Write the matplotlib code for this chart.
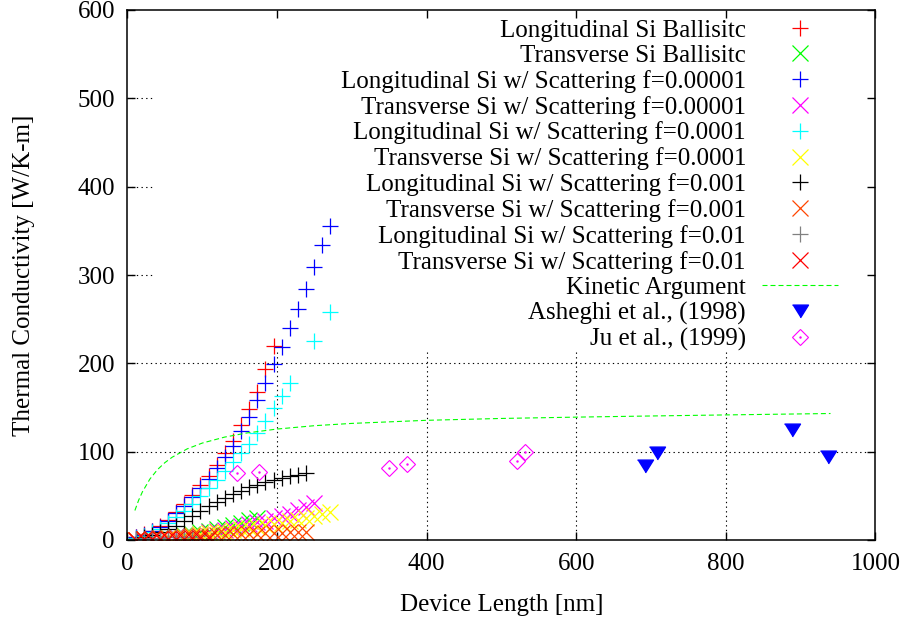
import matplotlib
matplotlib.use('Agg')
import matplotlib.pyplot as plt
from matplotlib.legend_handler import HandlerTuple

plt.rcParams['font.family'] = ['Liberation Serif', 'DejaVu Serif']
plt.rcParams['font.size'] = 18

# device lengths of the simulated points [nm]
length_nm = [10.9, 21.7, 32.6, 43.4, 54.3, 65.2, 76.0, 86.9, 97.7, 108.6,
             119.5, 130.3, 141.2, 152.0, 162.9, 173.8, 184.6, 195.5, 206.3,
             217.2, 228.1, 238.9, 249.8, 260.6, 271.5]

long_ballistic = [3, 6.5, 10.5, 16, 23, 32, 41, 51, 62, 73, 85, 99, 112, 130,
                  148, 168, 194, 220]
trans_ballistic = [0.3, 0.6, 1.1, 1.9, 2.8, 4, 5.3, 6.8, 8.5, 10.5, 12.5, 14.8,
                   17.2, 19.8, 22.5, 25]
long_f1e5 = [3, 6, 10, 15, 22, 31, 39, 49, 59, 69, 81, 94, 106, 123, 139, 158,
             178, 199, 218, 240, 262, 284, 309, 334, 355]
trans_f1e5 = [0.5, 1, 1.5, 2.2, 3, 4, 5, 6, 7, 8.5, 10, 11.5, 13.5, 15.5, 18,
              20, 22, 25, 27, 30, 34, 37, 41.5]
long_f1e4_x = [10.9, 21.7, 32.6, 43.4, 54.3, 65.2, 76.0, 86.9, 97.7, 108.6,
               119.5, 130.3, 141.2, 152.0, 162.9, 173.8, 184.6, 195.5, 206.3,
               217.2, 249.8, 271.5]
long_f1e4 = [2.5, 5, 8.5, 13, 19, 26, 33, 41, 50, 59, 68, 78, 88, 98, 109, 121,
             135, 149, 163, 178, 225, 258]
trans_f1e4 = [0.5, 1, 1.5, 2.2, 3, 3.5, 4.5, 5.5, 6.5, 7.5, 8.5, 9.5, 11, 12,
              13.5, 15, 16.5, 18, 19.5, 21, 23, 25, 27, 29, 32]
long_f1e3 = [1.5, 3, 5.5, 8.5, 12, 16, 21, 27, 33, 39, 43, 47.5, 52, 55.5, 59.5,
             62.5, 65.5, 68, 70, 72, 74, 75.5]
trans_f1e3 = [0.5, 1, 1.5, 2, 2.5, 3, 3.5, 4, 4.5, 5, 5.5, 6, 6.3, 6.6, 7, 7.3,
              7.6, 8, 8.2, 8.5, 8.8, 9]
long_f1e2 = [1, 1.5, 2, 2.5, 3, 3, 3.5, 3.5]
trans_f1e2 = [0.5, 0.8, 1, 1.2, 1.4, 1.5, 1.6, 1.7, 1.8, 1.9]

kinetic_x = [10, 15, 20, 30, 40, 50, 60, 80, 100, 130, 160, 200, 250, 300,
             400, 500, 600, 700, 800, 940]
kinetic_y = [33.4, 45, 54.4, 68.9, 79.5, 87.5, 93.8, 103.2, 109.7, 116.5, 121.2,
             125.6, 129.4, 132, 135.5, 137.6, 139.1, 140.4, 141.6, 143.2]

asheghi_x = [692, 708, 889, 937]
asheghi_y = [84, 98, 124, 94]
ju_x = [146, 176, 349.5, 374, 521, 531]
ju_y = [75.5, 77.3, 82, 86.4, 89, 100]

plus_series = [
    ('Longitudinal Si Ballisitc', length_nm, long_ballistic, '+', '#ff0000'),
    ('Transverse Si Ballisitc', length_nm, trans_ballistic, 'x', '#00ff00'),
    ('Longitudinal Si w/ Scattering f=0.00001', length_nm, long_f1e5, '+', '#0000ff'),
    ('Transverse Si w/ Scattering f=0.00001', length_nm, trans_f1e5, 'x', '#ff00ff'),
    ('Longitudinal Si w/ Scattering f=0.0001', long_f1e4_x, long_f1e4, '+', '#00ffff'),
    ('Transverse Si w/ Scattering f=0.0001', length_nm, trans_f1e4, 'x', '#ffff00'),
    ('Longitudinal Si w/ Scattering f=0.001', length_nm, long_f1e3, '+', '#000000'),
    ('Transverse Si w/ Scattering f=0.001', length_nm, trans_f1e3, 'x', '#ff4500'),
    ('Longitudinal Si w/ Scattering f=0.01', length_nm, long_f1e2, '+', '#808080'),
    ('Transverse Si w/ Scattering f=0.01', length_nm, trans_f1e2, 'x', '#ff0000'),
]

fig = plt.figure(figsize=(9.09, 6.23), dpi=100)
ax = fig.add_axes([127.4 / 909, 83 / 623, 748 / 909, 530 / 623])

# grid, kept out of the key area like gnuplot does
ax.hlines([100, 200], 0, 1000, colors='k', linestyles=(0, (1.2, 3)), lw=0.8, zorder=1)
ax.hlines([300, 400, 500], 0, 34, colors='k', linestyles=(0, (1.2, 3)), lw=0.8, zorder=1)
ax.vlines([200, 400, 600, 800], 0, 215, colors='k', linestyles=(0, (1.2, 3)), lw=0.8, zorder=1)

handles = []
labels = []
for label, xs, ys, mk, col in plus_series:
    ms = 11.3 if mk == '+' else 12
    h, = ax.plot(xs[:len(ys)], ys, linestyle='none', marker=mk, ms=ms, mew=0.9,
                 color=col, zorder=2)
    handles.append(h)
    labels.append(label)

h, = ax.plot(kinetic_x, kinetic_y, color='#00ff00', lw=0.8,
             linestyle=(0, (4.5, 2.7)), zorder=2)
handles.append(h)
labels.append('Kinetic Argument')

tri = [(-1, 0.8), (1, 0.8), (0, -0.8)]
h, = ax.plot(asheghi_x, asheghi_y, linestyle='none', marker=tri, ms=11.5,
             color='#0000ff', zorder=3)
handles.append(h)
labels.append('Asheghi et al., (1998)')

h1, = ax.plot(ju_x, ju_y, linestyle='none', marker='D', ms=8, mfc='none',
              mec='#ff00ff', mew=0.8, zorder=3)
h2, = ax.plot(ju_x, ju_y, linestyle='none', marker='.', ms=1.5,
              color='#ff00ff', zorder=3)
handles.append((h1, h2))
labels.append('Ju et al., (1999)')

ax.set_xlim(0, 1000)
ax.set_ylim(0, 600)
ax.set_xticks(range(0, 1001, 200))
ax.set_yticks(range(0, 601, 100))
ax.tick_params(direction='in', length=5.5, width=1, top=True, right=True)
ax.tick_params(axis='x', pad=9)
ax.tick_params(axis='y', pad=9)
for s in ax.spines.values():
    s.set_linewidth(1.1)

ax.set_xlabel('Device Length [nm]')
ax.set_ylabel('Thermal Conductivity [W/K-m]')
ax.xaxis.set_label_coords(0.5, -0.102)
ax.yaxis.set_label_coords(-0.123, 0.5)

leg = ax.legend(handles, labels, loc='upper right', bbox_to_anchor=(838 / 909, 1 - 19 / 623),
                bbox_transform=fig.transFigure, frameon=False, markerfirst=False,
                borderpad=0, borderaxespad=0, handlelength=3.04, handletextpad=0.64,
                labelspacing=0.115, handler_map={tuple: HandlerTuple(ndivide=1, pad=0)})

fig.savefig('out.png', dpi=100)
